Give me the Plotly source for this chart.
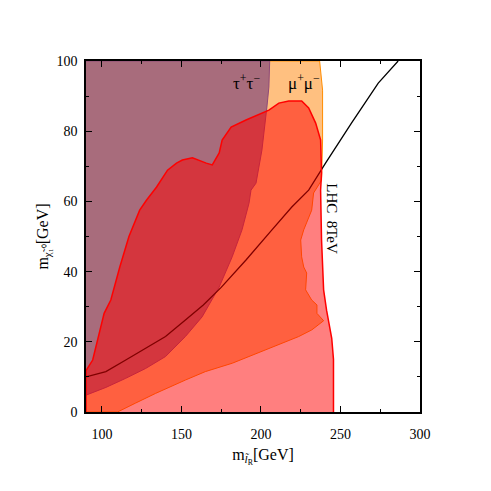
import plotly.graph_objects as go

# LHC 8TeV exclusion line
lhc_x = [90, 102.5, 115, 127.5, 140, 152.5, 163.75, 175, 190.6, 206.9, 219.4, 230, 240.6, 256.9, 273.75, 286.25]
lhc_y = [10, 11.5, 14.8, 18.1, 21.5, 26.2, 30.5, 35.5, 43.3, 51.9, 58.4, 63.2, 70.9, 82.3, 93.7, 100]

# tau+tau- region boundary
tau_x = [90, 102.5, 115, 127.5, 140, 152.5, 163, 173.75, 181.9, 188.1, 192.5, 193.75, 196.9, 200.6, 203.75, 205, 205.5, 90]
tau_y = [4.8, 7, 9.6, 12.4, 15.8, 21.5, 27.1, 35.6, 44.2, 51.9, 59.5, 63.2, 65.2, 74.6, 86.9, 92.6, 100, 100]

# mu+mu- region boundary
mumu_x = [90, 109.8, 121, 133.75, 152.5, 165, 182, 202.9, 223.75, 232, 239.4, 235.2, 235.2, 231.9, 228.1, 228.75, 226.9,
          225.6, 225, 226.9, 231.9, 233.1, 238.1, 238.75, 238.75, 236.9, 90]
mumu_y = [0, 0, 2.5, 5.3, 9.1, 11.5, 13.9, 17.7, 21.5, 23.4, 26, 28.1, 30.5, 31.9, 34.8, 39.6, 41.3,
          44.2, 49, 51.9, 57.5, 62.4, 66, 77.5, 91.7, 100, 100]

# red region boundary
red_x = [90, 90, 94.2, 98.3, 101.4, 105.6, 111.25, 117, 123.75, 128.1, 134.4, 141.25, 146.9, 150.6, 156.9, 165.6, 169.4,
         173.75, 175.6, 181.25, 190.6, 205, 211.25, 217.5, 225.6, 230, 234.4, 237.5, 238.1, 237.5, 238.1, 239.4, 240.4,
         241.25, 244.5, 245.6, 245.6]
red_y = [0, 11.8, 14.8, 22.4, 28.1, 31.9, 41.3, 50, 57.5, 60.4, 64.1, 68.9, 70.9, 71.8, 72.4, 70.9, 70.4,
         73.8, 77.5, 81.2, 83.2, 86, 88, 88.6, 88.6, 86.6, 82.3, 77.5, 68.1, 63.2, 49, 34.8, 31.9,
         29, 21, 15, 0]

x_ticks = [100, 150, 200, 250, 300]
y_ticks = [0, 20, 40, 60, 80, 100]

serif = "Liberation Serif"

fig = go.Figure()
fig.add_trace(go.Scatter(x=mumu_x, y=mumu_y, fill="toself", fillcolor="#FFC080",
                         line=dict(color="#FF8C00", width=1), mode="lines", hoverinfo="skip"))
fig.add_trace(go.Scatter(x=tau_x, y=tau_y, fill="toself", fillcolor="#A86C7C",
                         line=dict(color="#8E4A78", width=1), mode="lines", hoverinfo="skip"))
fig.add_trace(go.Scatter(x=lhc_x, y=lhc_y, mode="lines", line=dict(color="black", width=1.3), hoverinfo="skip"))
fig.add_trace(go.Scatter(x=red_x, y=red_y, fill="toself", fillcolor="rgba(255,0,0,0.5)",
                         line=dict(color="#FF0000", width=1.5), mode="lines", hoverinfo="skip"))

fig.add_annotation(x=191, y=94, text="τ<sup>+</sup>τ<sup>−</sup>", showarrow=False,
                   font=dict(family=serif, size=17, color="black"))
fig.add_annotation(x=227, y=94, text="μ<sup>+</sup>μ<sup>−</sup>", showarrow=False,
                   font=dict(family=serif, size=17, color="black"))
fig.add_annotation(x=244.5, y=55, text="LHC  8TeV", textangle=90, showarrow=False,
                   font=dict(family=serif, size=15, color="black"))

fig.update_xaxes(range=[90, 300], tickvals=x_ticks, ticks="inside", ticklen=6, tickcolor="black",
                 minor=dict(tickvals=[125, 175, 225, 275], ticks="inside", ticklen=3, tickcolor="black"),
                 showline=True, linecolor="black", linewidth=1.5, mirror="ticks", showgrid=False, zeroline=False,
                 tickfont=dict(family=serif, size=14, color="black"), ticklabelstandoff=8,
                 title=dict(text="&nbsp;&nbsp;&nbsp;&nbsp;&nbsp;m<sub><i>l̃</i><sub>R</sub></sub>[GeV]",
                            font=dict(family=serif, size=16, color="black"), standoff=8))
fig.update_yaxes(range=[0, 100], tickvals=y_ticks, ticks="inside", ticklen=6, tickcolor="black",
                 minor=dict(tickvals=[10, 30, 50, 70, 90], ticks="inside", ticklen=3, tickcolor="black"),
                 showline=True, linecolor="black", linewidth=1.5, mirror="ticks", showgrid=False, zeroline=False,
                 tickfont=dict(family=serif, size=14, color="black"), ticklabelstandoff=4,
                 title=dict(text="m<sub>χ̃₁⁰</sub>[GeV]", font=dict(family=serif, size=16, color="black"),
                            standoff=4))
fig.update_layout(width=483, height=483, margin=dict(l=78, r=71, t=53, b=79),
                  plot_bgcolor="white", paper_bgcolor="white", showlegend=False)
fig.write_html("out.html")
